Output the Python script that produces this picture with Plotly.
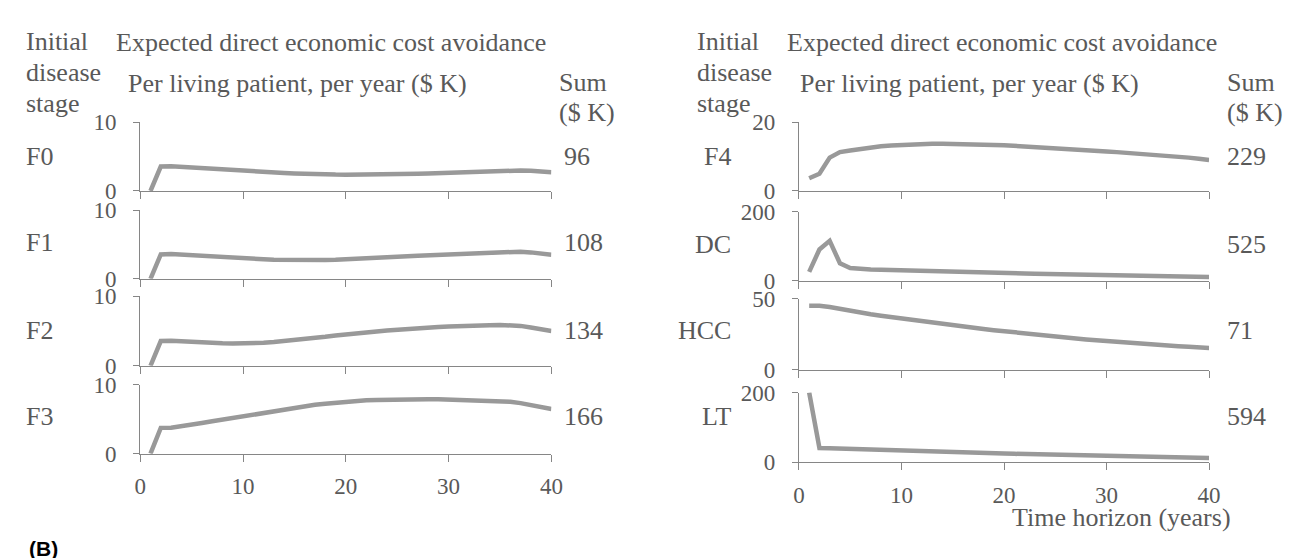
import plotly.graph_objects as go

W, H = 1292, 558

years = list(range(1, 41))

stages_left = ["F0", "F1", "F2", "F3"]
stages_right = ["F4", "DC", "HCC", "LT"]
sums_left = ["96", "108", "134", "166"]
sums_right = ["229", "525", "71", "594"]
ymax_left = [10, 10, 10, 10]
ymax_right = [20, 200, 50, 200]

f0 = [0, 3.55, 3.6, 3.5, 3.35, 3.25, 3.15, 3.08, 3.0, 2.93, 2.86, 2.78, 2.7, 2.62, 2.55, 2.48, 2.43, 2.4, 2.38, 2.37,
      2.37, 2.37, 2.37, 2.38, 2.42, 2.46, 2.5, 2.55, 2.6, 2.65, 2.72, 2.8, 2.87, 2.93, 2.97, 3.0, 2.98, 2.93, 2.85, 2.72]
f1 = [0, 3.55, 3.6, 3.5, 3.42, 3.35, 3.27, 3.2, 3.12, 3.03, 2.95, 2.85, 2.78, 2.75, 2.74, 2.74, 2.74, 2.75, 2.78, 2.83,
      2.9, 2.97, 3.05, 3.12, 3.2, 3.28, 3.35, 3.42, 3.5, 3.57, 3.62, 3.7, 3.78, 3.87, 3.95, 4.0, 3.95, 3.85, 3.7, 3.52]
f2 = [0, 3.55, 3.6, 3.5, 3.42, 3.35, 3.28, 3.22, 3.18, 3.17, 3.2, 3.3, 3.4, 3.52, 3.65, 3.8, 3.95, 4.15, 4.35, 4.45,
      4.6, 4.75, 4.9, 5.05, 5.18, 5.28, 5.38, 5.47, 5.55, 5.62, 5.7, 5.76, 5.8, 5.83, 5.85, 5.86, 5.72, 5.5, 5.27, 5.0]
f3 = [0, 3.75, 3.78, 3.95, 4.2, 4.45, 4.7, 4.95, 5.2, 5.45, 5.7, 5.95, 6.2, 6.45, 6.7, 6.9, 7.1, 7.25, 7.4, 7.55,
      7.65, 7.75, 7.8, 7.85, 7.88, 7.9, 7.92, 7.92, 7.9, 7.85, 7.82, 7.8, 7.75, 7.7, 7.65, 7.55, 7.35, 7.1, 6.8, 6.5]
f4 = [3.7, 5.0, 9.7, 11.3, 11.8, 12.3, 12.7, 13.0, 13.2, 13.4, 13.55, 13.65, 13.7, 13.7, 13.7, 13.65, 13.6, 13.5, 13.4, 13.3,
      13.15, 13.0, 12.85, 12.7, 12.5, 12.3, 12.1, 11.9, 11.7, 11.5, 11.3, 11.1, 10.9, 10.75, 10.55, 10.3, 10.0, 9.7, 9.4, 9.0]
dc = [26, 91, 116, 51, 37, 34, 33, 32, 31, 30, 29.2, 28.4, 27.6, 26.8, 26, 25.2, 24.4, 23.6, 22.8, 22,
      21.5, 21, 20.5, 20, 19.5, 19, 18.5, 18, 17.5, 17, 16.4, 15.8, 15.2, 14.6, 14, 13.4, 12.8, 12.2, 11.6, 11]
hcc = [45.2, 45.2, 44.3, 42.8, 41.5, 40.3, 39.1, 38.1, 37.1, 36.1, 35.1, 34.1, 33.1, 32.2, 31.3, 30.4, 29.5, 28.7, 27.9, 27.1,
       26.3, 25.5, 24.8, 24.1, 23.4, 22.7, 22.0, 21.3, 20.7, 20.1, 19.5, 19.0, 18.5, 18.0, 17.5, 17.0, 16.5, 16.1, 15.6, 15.2]
lt = [200, 41, 40, 39, 38, 37, 36, 35, 33.5, 32, 31.3, 30.6, 29.9, 29.2, 28.5, 27.8, 27.1, 26.4, 25.7, 25,
      24.2, 23.4, 22.6, 21.8, 21, 20.2, 19.4, 18.6, 17.8, 17, 16.5, 16, 15.5, 15, 14.5, 14, 13.5, 13, 12.5, 12]

series_left = [f0, f1, f2, f3]
series_right = [f4, dc, hcc, lt]
xticks = [0, 10, 20, 30, 40]

FONT = "Liberation Serif"
TXT = "#595959"
AX = "#868686"
LINE = "#999999"
LBL = 26
TICK = 23


def px(x):
    return x / W


def py(y):
    return 1 - y / H


# panel geometry (pixels)
left_x = (128, 545)
right_x = (796, 1212)
left_y = [(107, 179), (199, 271), (289, 362), (382, 454)]
right_y = [(107, 179), (201, 273), (292, 366), (390, 463)]

fig = go.Figure()
layout = {}
annotations = []

panels = []
for i in range(4):
    panels.append((left_x, left_y[i], series_left[i], ymax_left[i], i == 3))
for i in range(4):
    panels.append((right_x, right_y[i], series_right[i], ymax_right[i], i == 3))

for k, (xr, yr, vals, ymax, bottom) in enumerate(panels):
    n = k + 1
    xa = "x" if n == 1 else f"x{n}"
    ya = "y" if n == 1 else f"y{n}"
    fig.add_trace(go.Scatter(x=years, y=vals, mode="lines", xaxis=xa, yaxis=ya,
                             line=dict(color=LINE, width=4.5), showlegend=False,
                             hoverinfo="skip"))
    layout["xaxis" if n == 1 else f"xaxis{n}"] = dict(
        domain=[px(xr[0]), px(xr[1])], anchor=ya, range=[0, 40],
        showline=True, linecolor=AX, linewidth=1.2, ticks="outside", ticklen=7,
        tickcolor=AX, tickwidth=1.2, tickvals=xticks, showticklabels=bottom,
        ticklabelstandoff=5,
        tickfont=dict(family=FONT, size=TICK, color=TXT),
        showgrid=False, zeroline=False, fixedrange=True)
    layout["yaxis" if n == 1 else f"yaxis{n}"] = dict(
        domain=[py(yr[1]), py(yr[0])], anchor=xa, range=[0, ymax],
        showline=True, linecolor=AX, linewidth=1.2, ticks="outside", ticklen=6,
        tickcolor=AX, tickwidth=1.2, tickvals=[0, ymax],
        ticklabelstandoff=12,
        tickfont=dict(family=FONT, size=TICK, color=TXT),
        showgrid=False, zeroline=False, fixedrange=True)


def text(t, x, y, anchor="left", size=LBL, **kw):
    annotations.append(dict(text=t, x=px(x), y=py(y), xref="paper", yref="paper",
                            xanchor=anchor, yanchor="middle", showarrow=False,
                            font=dict(family=FONT, size=size, color=TXT), **kw))


# headers
for x0, xe, xp, xs in [(10, 101, 114, 551), (691, 782, 795, 1228)]:
    text("Initial", x0, 23)
    text("disease", x0, 55)
    text("stage", x0, 87)
    text("Expected direct economic cost avoidance", xe, 24)
    text("Per living patient, per year ($ K)", xp, 67)
    text("Sum", xs, 65)
    text("($ K)", xs, 97)

stage_y_left = [143, 233, 325, 415]
stage_y_right = [143, 235, 325, 415]
for i in range(4):
    text(stages_left[i], 10, stage_y_left[i])
    text(sums_left[i], 556, stage_y_left[i])
    text(stages_right[i], 729, stage_y_right[i], anchor="right")
    text(sums_right[i], 1228, stage_y_right[i])

text("Time horizon (years)", 1236, 521, anchor="right")
annotations.append(dict(text="<b>(B)</b>", x=px(13), y=py(539), xref="paper", yref="paper",
                        xanchor="left", yanchor="top", showarrow=False,
                        font=dict(family="Liberation Sans", size=21, color="#000000")))

fig.update_layout(width=W, height=H, margin=dict(l=0, r=0, t=0, b=0),
                  paper_bgcolor="white", plot_bgcolor="white",
                  annotations=annotations, showlegend=False, **layout)

fig.write_html("out.html", config={"displayModeBar": False})
